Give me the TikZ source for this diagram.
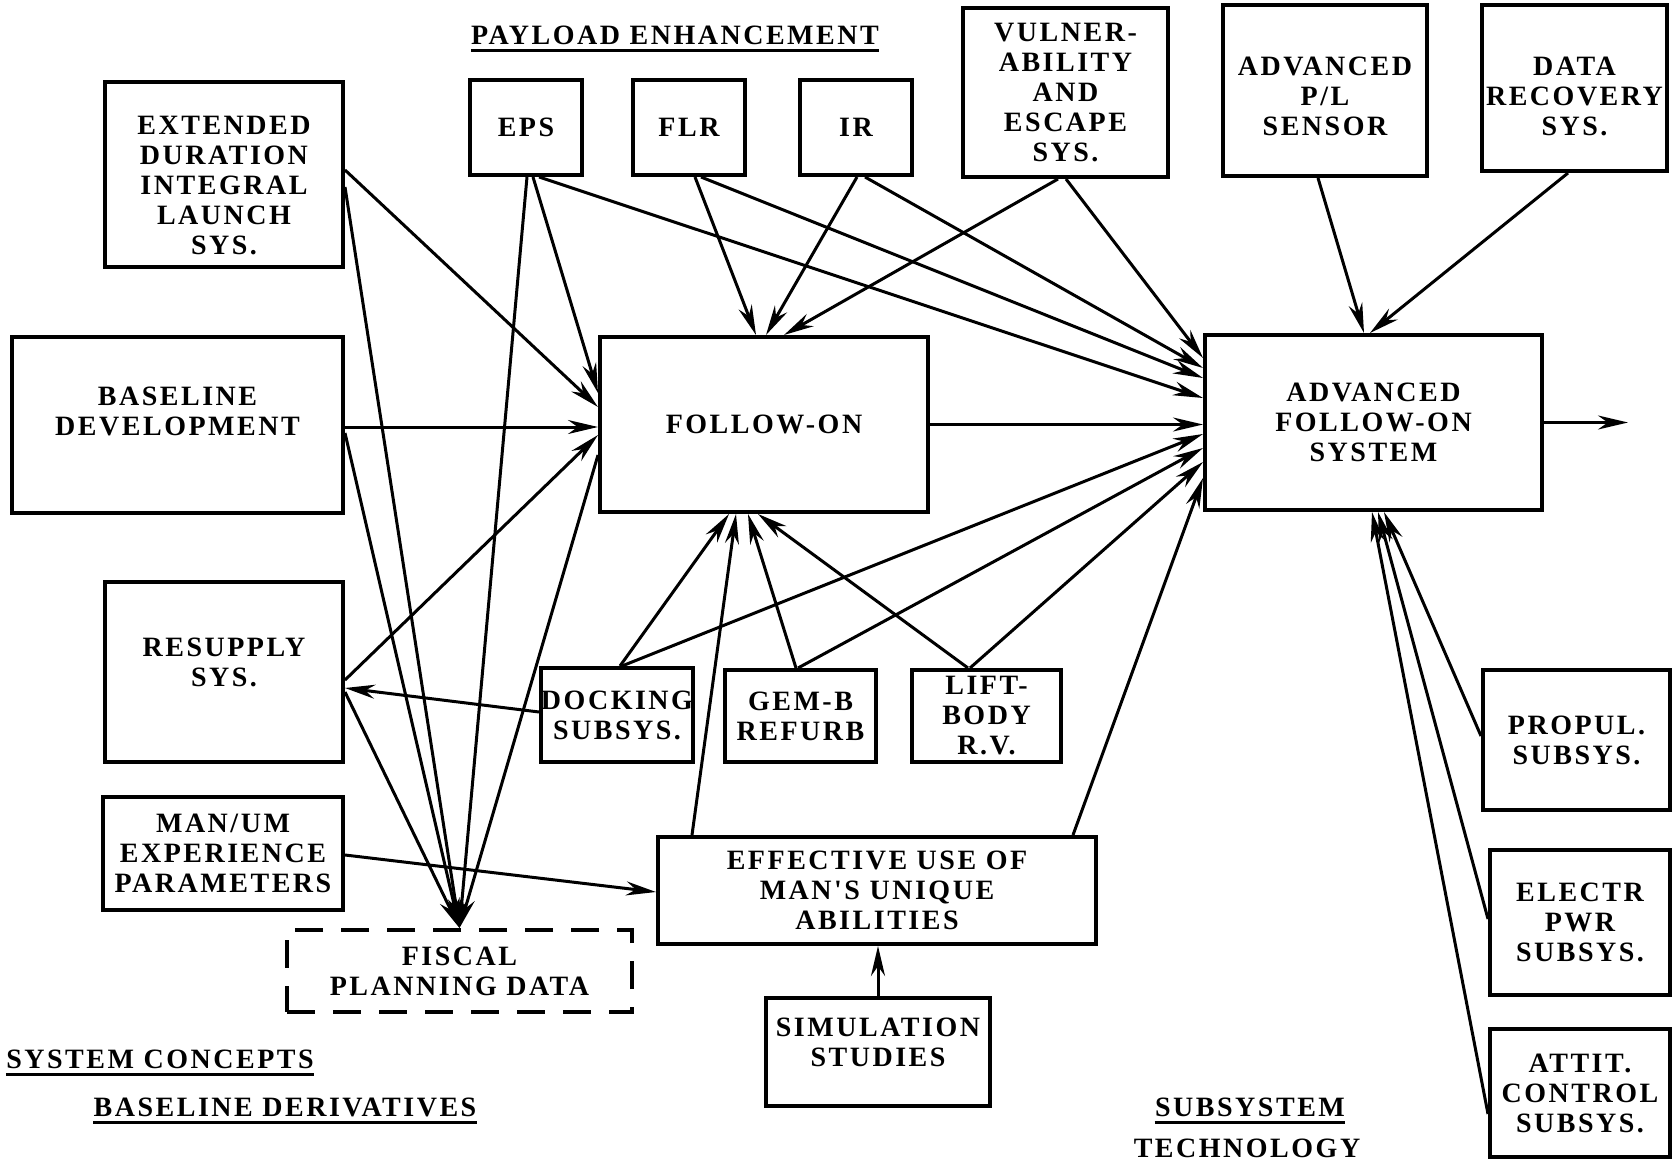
\documentclass[tikz,border=0pt]{standalone}
\usepackage{fontspec}
\newfontfamily\chartfont{Liberation Serif}[LetterSpace=9]
\usetikzlibrary{positioning, calc, arrows.meta}

\begin{document}
\begin{tikzpicture}[x=0.5pt, y=-0.5pt,
    blk/.style={draw, line width=2pt, align=center, inner sep=0pt,
        font=\chartfont\bfseries\fontsize{14}{15}\selectfont},
    head/.style={inner sep=0pt, font=\chartfont\bfseries\fontsize{14}{15}\selectfont},
    feed/.style={line width=1.5pt, -{Stealth[length=15pt, width=7pt]}},
    rule/.style={line width=1.4pt}]

    % Page frame
    \useasboundingbox (0,0) rectangle (1672,1161);

    % Payload enhancement row
    \node[head] (pay) at (675,35) {PAYLOAD ENHANCEMENT};
    \draw[rule] ([yshift=-3pt]pay.south west) -- ([yshift=-3pt]pay.south east);
    \node[blk, minimum width=56pt, minimum height=47.5pt] (eps) at (526,127.5) {EPS};
    \node[blk, minimum width=56pt, minimum height=47.5pt] (flr) at (689,127.5) {FLR};
    \node[blk, minimum width=56pt, minimum height=47.5pt] (ir) at (856,127.5) {IR};
    \node[blk, minimum width=102.5pt, minimum height=84.5pt] (vul) at (1065.5,92.5) {VULNER-\\ABILITY\\AND\\ESCAPE\\SYS.};
    \node[blk, text height=45.5pt, minimum width=102pt, minimum height=85.5pt] (pls) at (1325,90.5) {ADVANCED\\P/L\\SENSOR};
    \node[blk, text height=47.5pt, minimum width=92.5pt, minimum height=83pt] (drs) at (1574.5,88) {DATA\\RECOVERY\\SYS.};

    % Baseline derivatives (left column)
    \node[blk, text height=80pt, minimum width=119pt, minimum height=92.5pt] (ext) at (224,174.5) {EXTENDED\\DURATION\\INTEGRAL\\LAUNCH\\SYS.};
    \node[blk, text depth=14pt, minimum width=165.5pt, minimum height=88pt] (base) at (177.5,425) {BASELINE\\DEVELOPMENT};
    \node[blk, text depth=10pt, minimum width=119pt, minimum height=90pt] (res) at (224,672) {RESUPPLY\\SYS.};
    \node[blk, minimum width=120pt, minimum height=56.5pt] (man) at (223,853.5) {MAN/UM\\EXPERIENCE\\PARAMETERS};
    \node[blk, dash pattern=on 14pt off 9pt, minimum width=172.5pt, minimum height=41pt] (fisc) at (459.5,971) {FISCAL\\PLANNING DATA};

    % Main systems
    \node[blk, minimum width=164pt, minimum height=87.5pt] (fol) at (764,424.5) {FOLLOW-ON};
    \node[blk, minimum width=168.5pt, minimum height=87.5pt] (afo) at (1373.5,422.5) {ADVANCED\\FOLLOW-ON\\SYSTEM};
    \coordinate[right=42pt of afo.east] (out);

    % Middle row subsystems
    \node[blk, minimum width=75pt, minimum height=47pt] (dock) at (617,715) {DOCKING\\SUBSYS.};
    \node[blk, minimum width=75.5pt, minimum height=46pt] (gem) at (800.5,716) {GEM-B\\REFURB};
    \node[blk, minimum width=74.5pt, minimum height=46pt] (lift) at (986.5,716) {LIFT-\\BODY\\R.V.};
    \node[blk, minimum width=219pt, minimum height=53.5pt] (eff) at (877,890.5) {EFFECTIVE USE OF\\MAN'S UNIQUE\\ABILITIES};
    \node[blk, text depth=10pt, minimum width=112pt, minimum height=54pt] (sim) at (878,1052) {SIMULATION\\STUDIES};

    % Subsystem technology (right column)
    \node[blk, minimum width=93.5pt, minimum height=70pt] (prop) at (1576.5,740) {PROPUL.\\SUBSYS.};
    \node[blk, minimum width=90pt, minimum height=72.5pt] (elec) at (1580,922.5) {ELECTR\\PWR\\SUBSYS.};
    \node[blk, minimum width=90pt, minimum height=64pt] (att) at (1580,1093) {ATTIT.\\CONTROL\\SUBSYS.};

    % Group titles
    \node[head] (syscon) at (160,1059) {SYSTEM CONCEPTS};
    \draw[rule] ([yshift=-3pt]syscon.south west) -- ([yshift=-3pt]syscon.south east);
    \node[head] (basder) at (285,1107) {BASELINE DERIVATIVES};
    \draw[rule] ([yshift=-3pt]basder.south west) -- ([yshift=-3pt]basder.south east);
    \node[head] (subsys) at (1250,1107) {SUBSYSTEM};
    \draw[rule] ([yshift=-3pt]subsys.south west) -- ([yshift=-3pt]subsys.south east);
    \node[head] (tech) at (1247,1148) {TECHNOLOGY};

    % Into follow-on
    \draw[feed] (ext.east |- 0,170) -- (fol.west |- 0,407);
    \draw[feed] (eps.south -| 533,0) -- (fol.west |- 0,393);
    \draw[feed] (base.east |- 0,427) -- (fol.west |- 0,427);
    \draw[feed] (res.east |- 0,680) -- (fol.west |- 0,435);
    \draw[feed] (flr.south -| 695,0) -- (fol.north -| 756,0);
    \draw[feed] (ir.south -| 857,0) -- (fol.north -| 766,0);
    \draw[feed] (vul.south -| 1058,0) -- (fol.north -| 784,0);
    \draw[feed] (dock.north -| 620,0) -- (fol.south -| 729,0);
    \draw[feed] (eff.north -| 692,0) -- (fol.south -| 736,0);
    \draw[feed] (gem.north -| 796,0) -- (fol.south -| 748,0);
    \draw[feed] (lift.north -| 968,0) -- (fol.south -| 758,0);

    % Into fiscal planning data
    \draw[feed] (ext.east |- 0,187) -- (fisc.north);
    \draw[feed] (base.east |- 0,433) -- (fisc.north);
    \draw[feed] (res.east |- 0,692) -- (fisc.north);
    \draw[feed] (eps.south -| 527,0) -- (fisc.north);
    \draw[feed] (fol.west |- 0,455) -- (fisc.north);

    % Into advanced follow-on
    \draw[feed] (eps.south -| 539,0) -- (afo.west |- 0,398);
    \draw[feed] (flr.south -| 701,0) -- (afo.west |- 0,378);
    \draw[feed] (ir.south -| 865,0) -- (afo.west |- 0,368);
    \draw[feed] (vul.south -| 1066,0) -- (afo.west |- 0,358);
    \draw[feed] (fol.east) -- (fol.east -| afo.west);
    \draw[feed] (dock.north -| 622,0) -- (afo.west |- 0,434);
    \draw[feed] (gem.north -| 798,0) -- (afo.west |- 0,448);
    \draw[feed] (lift.north -| 970,0) -- (afo.west |- 0,462);
    \draw[feed] (eff.north -| 1073,0) -- (afo.west |- 0,478);
    \draw[feed] (pls.south -| 1318,0) -- (afo.north -| 1364,0);
    \draw[feed] (drs.south -| 1568,0) -- (afo.north -| 1370,0);
    \draw[feed] (prop.west |- 0,736) -- (afo.south -| 1384,0);
    \draw[feed] (elec.west |- 0,919) -- (afo.south -| 1378,0);
    \draw[feed] (att.west |- 0,1114) -- (afo.south -| 1372,0);
    \draw[feed] (afo.east) -- (out);

    % Other feeds
    \draw[feed] (dock.west |- 0,712) -- (res.east |- 0,688);
    \draw[feed] (man.east |- 0,855) -- (eff.west |- 0,892);
    \draw[feed] (sim.north) -- (sim.north |- eff.south);

\end{tikzpicture}
\end{document}
